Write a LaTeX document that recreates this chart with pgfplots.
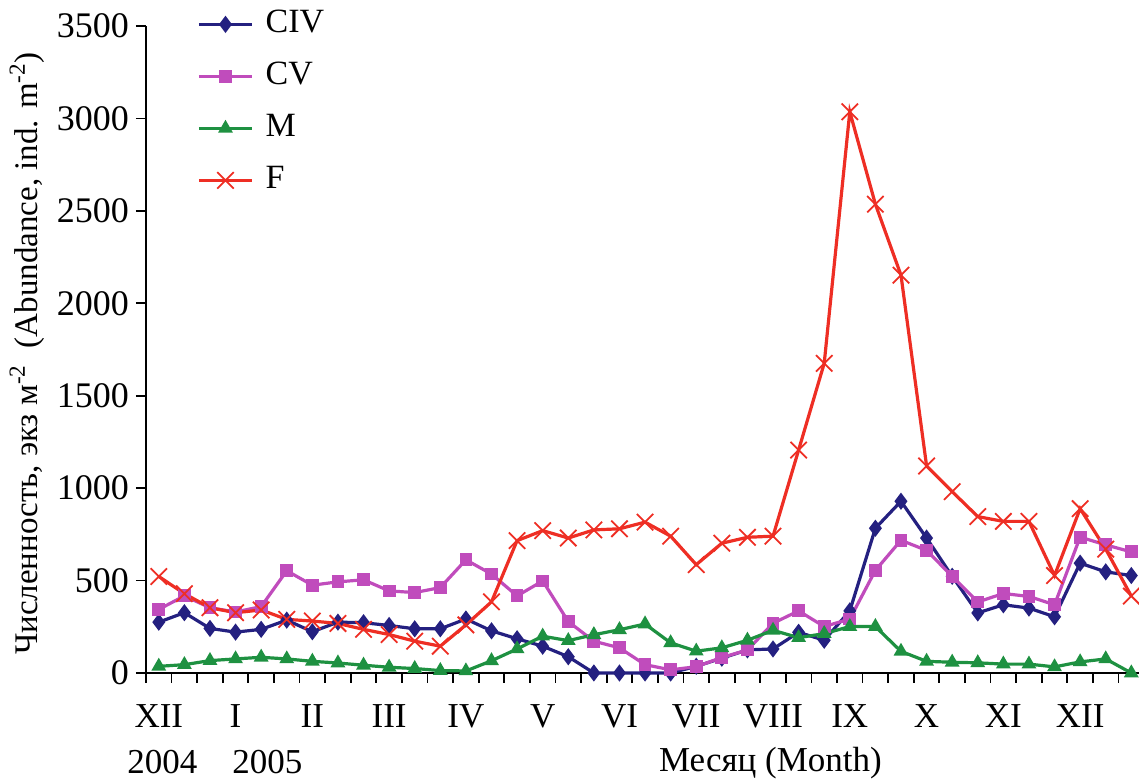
\documentclass[border=0pt]{standalone}
\usepackage{fontspec}
\setmainfont{Liberation Serif}
\usepackage{pgfplots}
\usepackage{pgfplotstable}
\pgfplotsset{compat=1.18}

\definecolor{cciv}{RGB}{36,32,128}
\definecolor{ccv}{RGB}{192,76,188}
\definecolor{cm}{RGB}{30,145,65}
\definecolor{cf}{RGB}{238,46,36}

\pgfplotstableread{
i civ cv m f
0 275 344 36 522
1 326 417 45 429
2 241 353 67 353
3 221 330 76 326
4 236 359 85 341
5 286 553 76 290
6 223 475 63 281
7 275 493 54 268
8 272 504 42 236
9 257 444 31 208
10 239 435 24 172
11 239 462 13 145
12 292 612 11 260
13 228 535 66 385
14 185 417 130 716
15 145 498 199 770
16 88 278 175 730
17 0 172 207 774
18 0 136 234 780
19 0 45 265 816
20 0 17 163 740
21 36 34 118 586
22 80 84 136 702
23 125 124 177 734
24 130 269 231 740
25 220 336 191 1206
26 177 251 213 1675
27 336 292 251 3036
28 783 555 251 2536
29 929 718 117 2152
30 730 663 63 1120
31 523 523 58 981
32 325 384 55 846
33 369 430 48 820
34 351 414 48 820
35 304 369 33 527
36 594 735 60 889
37 547 693 76 670
38 527 655 0 416
}\data

\begin{document}
\begin{tikzpicture}
\begin{axis}[name=ax, scale only axis, width=496.5pt, height=323.5pt,
  xmin=-0.5, xmax=38.3, ymin=0, ymax=3500, clip=false,
  axis lines=left, axis line style={-, line width=0.9pt, black},
  tick align=outside, tick style={line width=0.9pt, black}, major tick length=5pt,
  xtick={-0.5,0.5,...,37.5}, xticklabels={},
  ytick={0,500,...,3500},
  yticklabel style={font=\rmfamily\fontsize{18}{21}\selectfont},
  /pgf/number format/assume math mode=true,
  /pgf/number format/1000 sep={},
  every axis plot/.append style={line width=1.6pt},
  legend image code/.code={\draw[mark repeat=2,mark phase=2,#1] plot coordinates {(0pt,0pt)(13.25pt,0pt)(26.5pt,0pt)};},
  legend style={at={(rel axis cs:0,1)}, anchor=north west, xshift=25.5pt, yshift=9pt,
    draw=none, fill=none, inner sep=0pt, row sep=10pt, column sep=6pt,
    font=\rmfamily\fontsize{17}{20}\selectfont,
    nodes={inner sep=0pt, text height=12pt, text depth=4pt}},
  legend cell align=left,
]
\addplot[color=cciv, mark=diamond*, mark size=3.5pt, mark options={solid, line width=1pt}] table[x=i,y=civ] {\data};
\addlegendentry{CIV}
\addplot[color=ccv, mark=square*, mark size=2.8pt, mark options={line width=0.8pt}] table[x=i,y=cv] {\data};
\addlegendentry{CV}
\addplot[color=cm, mark=triangle*, mark size=3.5pt, mark options={line width=0.8pt}] table[x=i,y=m] {\data};
\addlegendentry{M}
\addplot[color=cf, mark=x, mark size=5.8pt, mark options={line width=0.9pt}] table[x=i,y=f] {\data};
\addlegendentry{F}

\foreach \xx/\lab in {0/XII,3/I,6/II,9/III,12/IV,15/V,18/VI,21/VII,24/VIII,27/IX,30/X,33/XI,36/XII}{
  \edef\temp{\noexpand\node[anchor=base, font=\noexpand\rmfamily\noexpand\fontsize{17.5}{20}\noexpand\selectfont, inner sep=0pt] at (axis cs:\xx,0) [yshift=-27.5pt] {\lab};}
  \temp
}
\node[anchor=base, font=\rmfamily\fontsize{17.5}{20}\selectfont, inner sep=0pt] at (axis cs:0.14,0) [yshift=-50.5pt] {2004};
\node[anchor=base, font=\rmfamily\fontsize{17.5}{20}\selectfont, inner sep=0pt] at (axis cs:4.24,0) [yshift=-50.5pt] {2005};
\node[anchor=base, font=\rmfamily\fontsize{17.5}{20}\selectfont, inner sep=0pt] at (axis cs:23.9,0) [yshift=-49.5pt] {Месяц (Month)};
\end{axis}
\node[rotate=90, anchor=center, font=\rmfamily\fontsize{16.5}{20}\selectfont, inner sep=0pt] at ([xshift=-59.5pt,yshift=-2pt]ax.west) {Численность, экз м\textsuperscript{-2}\ \ (Abundance, ind. m\textsuperscript{-2})};
\pgfresetboundingbox
\path ([xshift=-73pt,yshift=-53pt]ax.south west) rectangle ([yshift=13pt]ax.north east);
\end{tikzpicture}
\end{document}
